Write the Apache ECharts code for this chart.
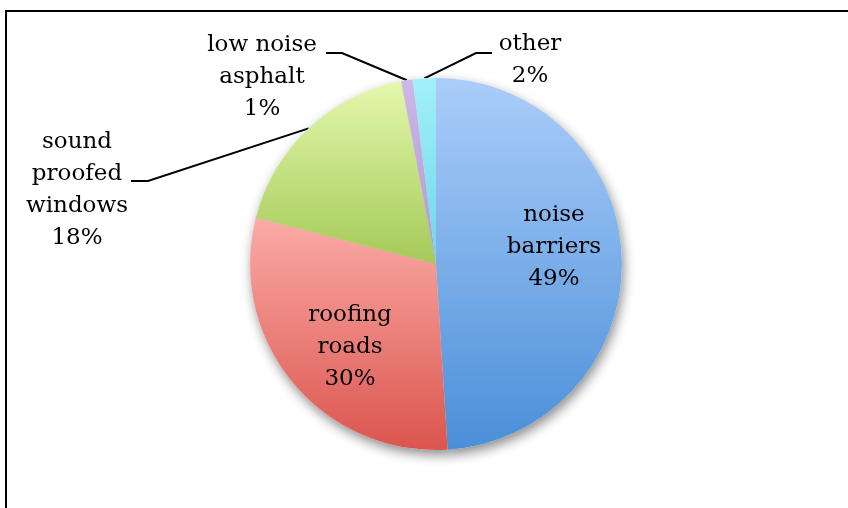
<!DOCTYPE html>
<html>
<head>
<meta charset="utf-8">
<script src="https://cdn.jsdelivr.net/npm/echarts@6/dist/echarts.min.js"></script>
<style>
  html, body { margin: 0; padding: 0; background: #fff; }
  #chart { width: 848px; height: 508px; }
</style>
</head>
<body>
<div id="chart"></div>
<script>
// data
const categories = ['noise barriers', 'roofing roads', 'sound proofed windows', 'low noise asphalt', 'other'];
const shares = [49, 30, 18, 1, 2];
const labelNames = ['noise\nbarriers', 'roofing\nroads', 'sound\nproofed\nwindows', 'low noise\nasphalt', 'other'];

// slice gradient (top -> bottom)
const topColors = ['#abcdfa', '#fbaba7', '#e3f8ad', '#cdb8e6', '#a2f0fb'];
const bottomColors = ['#4a8fd8', '#db554e', '#a5c957', '#b197d5', '#70d5ea'];

const chart = echarts.init(document.getElementById('chart'));

const center = ['436', '264'];
const radius = 186;

// label placement for outside labels: [labelX, labelY, elbowX, elbowY, endX]
const outsideLabels = {
  2: [77, 190, 148, 181, 131],
  3: [262, 77, 342, 53, 326],
  4: [530, 60, 476, 53, 492]
};

const option = {
  animation: false,
  backgroundColor: '#fff',
  graphic: [{
    type: 'rect',
    shape: { x: 6, y: 11, width: 1000, height: 1000 },
    style: { fill: 'none', stroke: '#000', lineWidth: 2 },
    silent: true
  }],
  series: [
    {
      // shadow layer underneath
      type: 'pie',
      silent: true,
      center: center,
      radius: radius,
      startAngle: 90,
      label: { show: false },
      labelLine: { show: false },
      itemStyle: {
        color: '#fff',
        shadowBlur: 12,
        shadowOffsetX: 2,
        shadowOffsetY: 5,
        shadowColor: 'rgba(0,0,0,0.45)'
      },
      data: shares.map((v, i) => ({ value: v, name: categories[i] }))
    },
    {
      type: 'pie',
      center: center,
      radius: radius,
      startAngle: 90,
      clockwise: true,
      label: {
        fontFamily: 'DejaVu Serif',
        fontSize: 23,
        lineHeight: 32,
        color: '#000',
        align: 'center',
        formatter: p => labelNames[p.dataIndex] + '\n' + Math.round(p.percent) + '%'
      },
      labelLine: {
        show: true,
        lineStyle: { color: '#000', width: 2 }
      },
      labelLayout: function (params) {
        const i = params.dataIndex;
        if (i === 0) return { dx: 22, dy: -14 };
        if (i === 1) return { dx: -12, dy: 22 };
        const o = outsideLabels[i];
        const p0 = params.labelLinePoints ? params.labelLinePoints[0] : [o[2], o[3]];
        return {
          x: o[0],
          y: o[1],
          align: 'center',
          verticalAlign: 'middle',
          labelLinePoints: [p0, [o[2], o[3]], [o[4], o[3]]]
        };
      },
      data: shares.map((v, i) => ({
        value: v,
        name: categories[i],
        label: { position: i < 2 ? 'inside' : 'outside' },
        labelLine: { show: i >= 2 },
        itemStyle: {
          color: new echarts.graphic.LinearGradient(0, 0, 0, 1, [
            { offset: 0, color: topColors[i] },
            { offset: 1, color: bottomColors[i] }
          ])
        }
      }))
    }
  ]
};

chart.setOption(option);
</script>
</body>
</html>
